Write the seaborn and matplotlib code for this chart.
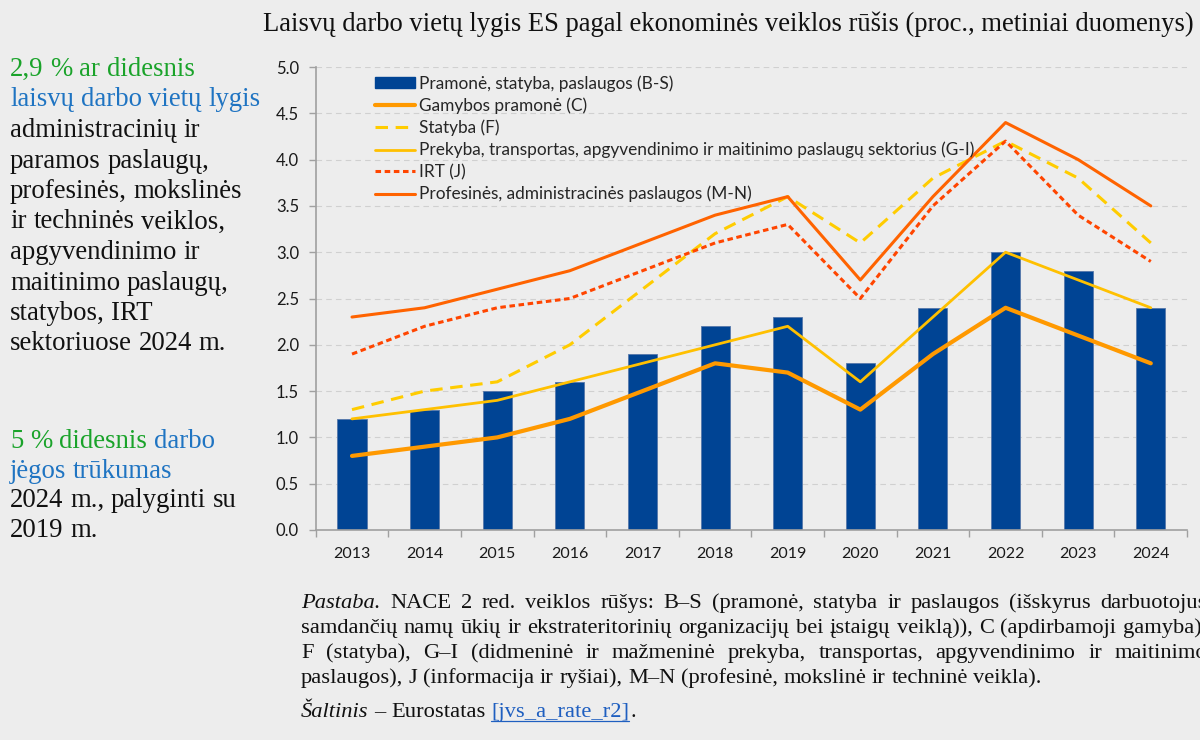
import matplotlib.pyplot as plt
import matplotlib.lines as mlines
import matplotlib.patches as mpatches
import seaborn as sns
import pandas as pd
import numpy as np

# Duomenys (nuskaityti nuo grafiko)
years = [2013, 2014, 2015, 2016, 2017, 2018, 2019, 2020, 2021, 2022, 2023, 2024]
total_bs = [1.2, 1.3, 1.5, 1.6, 1.9, 2.2, 2.3, 1.8, 2.4, 3.0, 2.8, 2.4]
manuf_c = [0.8, 0.9, 1.0, 1.2, 1.5, 1.8, 1.7, 1.3, 1.9, 2.4, 2.1, 1.8]
constr_f = [1.3, 1.5, 1.6, 2.0, 2.6, 3.2, 3.6, 3.1, 3.8, 4.2, 3.8, 3.1]
trade_gi = [1.2, 1.3, 1.4, 1.6, 1.8, 2.0, 2.2, 1.6, 2.3, 3.0, 2.7, 2.4]
ict_j = [1.9, 2.2, 2.4, 2.5, 2.8, 3.1, 3.3, 2.5, 3.5, 4.2, 3.4, 2.9]
prof_mn = [2.3, 2.4, 2.6, 2.8, 3.1, 3.4, 3.6, 2.7, 3.6, 4.4, 4.0, 3.5]

series_labels = [
    "Pramonė, statyba, paslaugos (B-S)",
    "Gamybos pramonė (C)",
    "Statyba (F)",
    "Prekyba, transportas, apgyvendinimo ir maitinimo paslaugų sektorius (G-I)",
    "IRT (J)",
    "Profesinės, administracinės paslaugos (M-N)",
]
yticks = [0.0, 0.5, 1.0, 1.5, 2.0, 2.5, 3.0, 3.5, 4.0, 4.5, 5.0]

title = "Laisvų darbo vietų lygis ES pagal ekonominės veiklos rūšis (proc., metiniai duomenys)"

GREEN = "#1AA32A"
BLUE = "#1F74C2"
bg = "#EDEDED"

sns.set_style("white", {"axes.facecolor": bg, "figure.facecolor": bg})
plt.rcParams["font.family"] = ["Lato", "DejaVu Sans"]
plt.rcParams["lines.scale_dashes"] = False

W, H = 1200, 740
fig = plt.figure(figsize=(12, 7.4), dpi=100)
ax = fig.add_axes([315.7 / W, 1 - 530 / H, 871.4 / W, 463 / H])

df = pd.DataFrame({"year": [str(y) for y in years], "value": total_bs})
sns.barplot(data=df, x="year", y="value", color="#004494", saturation=1,
            width=0.4, ax=ax, zorder=2, edgecolor="#5577AA", linewidth=0.6)

pos = np.arange(len(years))
line_specs = [
    (manuf_c, "#FF9900", 3.0, None),
    (constr_f, "#FFCC00", 2.2, (9, 5.5)),
    (trade_gi, "#FFC000", 2.0, None),
    (ict_j, "#FF4500", 2.2, (4, 2.6)),
    (prof_mn, "#FF6300", 2.2, None),
]
for vals, color, lw, dash in line_specs:
    sns.lineplot(x=pos, y=vals, color=color, linewidth=lw, ax=ax, zorder=3)
    if dash is not None:
        ax.lines[-1].set_dashes(dash)

ax.set_xlim(-0.5, len(years) - 0.5)
ax.set_ylim(0, 5)
ax.set_yticks(yticks)
ax.set_yticklabels([f"{v:.1f}" for v in yticks])
ax.set_xlabel("")
ax.set_ylabel("")
ax.set_xticks(pos, [str(y) for y in years])
ax.set_xticks(np.arange(-0.5, len(years)), minor=True)
ax.tick_params(axis="x", which="major", length=0, pad=12, labelsize=11.5, labelcolor="#1A1A1A")
ax.tick_params(axis="x", which="minor", length=5, width=1, color="#A0A0A0",
               direction="out", bottom=True)
ax.tick_params(axis="y", length=5, width=1, color="#A0A0A0", pad=7, labelsize=12,
               labelcolor="#1A1A1A", left=True)
ax.yaxis.grid(True, color="#D0D0D0", linestyle=(0, (4, 3)), linewidth=0.8)
ax.set_axisbelow(True)
for s in ["top", "right"]:
    ax.spines[s].set_visible(False)
for s in ["left", "bottom"]:
    ax.spines[s].set_color("#A0A0A0")
    ax.spines[s].set_linewidth(1.2)

handles = [mpatches.Patch(color="#004494")]
for vals, color, lw, dash in line_specs:
    h = mlines.Line2D([], [], color=color, linewidth=lw)
    if dash is not None:
        h.set_dashes(dash)
    handles.append(h)
fig.legend(handles, series_labels, loc="upper left", bbox_to_anchor=(375 / W, 1 - 75 / H),
           frameon=False, fontsize=12.4, borderpad=0, borderaxespad=0, handlelength=2.35,
           handletextpad=0.2, labelspacing=0.33, handleheight=0.6)

serif = ["Liberation Serif", "DejaVu Serif"]
fig.text(728 / W, 1 - 31 / H, title, ha="center", va="baseline", family=serif,
         fontsize=19.2, color="#111111")

renderer = fig.canvas.get_renderer()


def text_width(s, **kw):
    t = fig.text(0, 0, s, **kw)
    w = t.get_window_extent(renderer).width
    t.remove()
    return w


def put_words(x0, y_px, words, right=None):
    # words: list of (text, props); places word by word, optionally justified
    widths = [text_width(w, **p) for w, p in words]
    if right is not None and len(words) > 1:
        gap = (right - x0 - sum(widths)) / (len(words) - 1)
    else:
        gap = None
    x = x0
    placed = []
    for (w, p), wd in zip(words, widths):
        t = fig.text(x / W, 1 - y_px / H, w, va="baseline", ha="left", **p)
        placed.append((t, x, wd))
        sp = gap if gap is not None else text_width("x x", **p) - text_width("xx", **p)
        x += wd + sp
    return placed


def split_runs(runs):
    out = []
    for s, p in runs:
        for w in s.split(" "):
            if w:
                out.append((w, p))
    return out


# kairysis tekstas
lt = dict(family=serif, fontsize=19.3, color="#111111")
left_block = [
    [("2,9 % ar didesnis", {**lt, "color": GREEN})],
    [("laisvų darbo vietų lygis", {**lt, "color": BLUE})],
    [("administracinių ir", lt)],
    [("paramos paslaugų,", lt)],
    [("profesinės, mokslinės", lt)],
    [("ir techninės veiklos,", lt)],
    [("apgyvendinimo ir", lt)],
    [("maitinimo paslaugų,", lt)],
    [("statybos, IRT", lt)],
    [("sektoriuose 2024 m.", lt)],
]
for i, runs in enumerate(left_block):
    put_words(10, 76 + i * 30.5, split_runs(runs))

left_block2 = [
    [("5 % didesnis", {**lt, "color": GREEN}), ("darbo", {**lt, "color": BLUE})],
    [("jėgos trūkumas", {**lt, "color": BLUE})],
    [("2024 m., palyginti su", lt)],
    [("2019 m.", lt)],
]
for i, runs in enumerate(left_block2):
    put_words(10, 448 + i * 29.7, split_runs(runs))

# pastaba apacioje
nt = dict(family=serif, fontsize=16.2, color="#111111")
ni = {**nt, "style": "italic"}
note_lines = [
    [("Pastaba.", ni), ("NACE 2 red. veiklos rūšys: B–S (pramonė, statyba ir paslaugos (išskyrus darbuotojus", nt)],
    [("samdančių namų ūkių ir ekstrateritorinių organizacijų bei įstaigų veiklą)), C (apdirbamoji gamyba),", nt)],
    [("F (statyba), G–I (didmeninė ir mažmeninė prekyba, transportas, apgyvendinimo ir maitinimo", nt)],
]
note_y = [608, 633, 658]
for runs, y in zip(note_lines, note_y):
    put_words(301, y, split_runs(runs), right=1207)
put_words(301, 683, split_runs([("paslaugos), J (informacija ir ryšiai), M–N (profesinė, mokslinė ir techninė veikla).", nt)]))

src = put_words(301, 717, [("Šaltinis", ni), ("–", nt), ("Eurostatas", nt),
                           ("[jvs_a_rate_r2]", {**nt, "color": "#1F5FC0"})])
link_t, link_x, link_w = src[-1]
fig.add_artist(mlines.Line2D([link_x / W, (link_x + link_w) / W], [1 - 721 / H, 1 - 721 / H],
                             color="#1F5FC0", linewidth=0.9))
fig.text((link_x + link_w + 1) / W, 1 - 717 / H, ".", va="baseline", ha="left", **nt)

fig.savefig("out.png", dpi=100, facecolor=bg)
